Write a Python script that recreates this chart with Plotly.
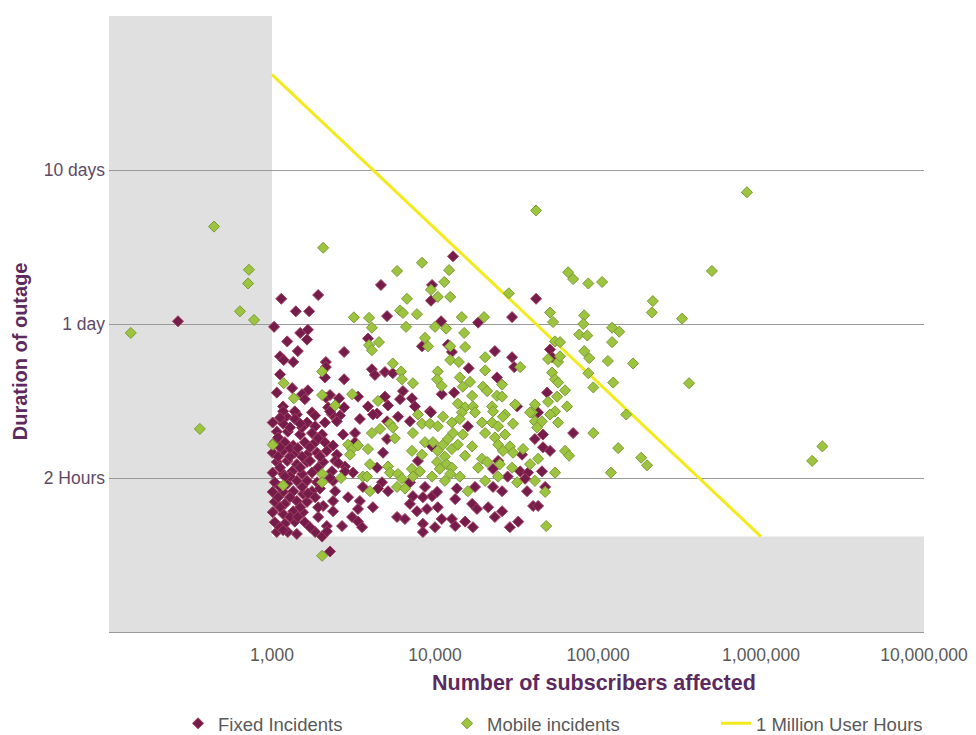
import plotly.graph_objects as go

# ---------------- data ----------------
fixed_subscribers = [
    265, 2030, 2270, 1140, 1920, 1400, 1690, 1030, 1490, 1660, 1640, 1240, 1440, 2770, 1120, 1180,
    1350, 2140, 2140, 1120, 2110, 2770, 1070, 1330, 1660, 1530, 1590, 2140, 2270, 1170, 2210, 2580,
    1420, 1760, 1840, 1220, 2330, 2770, 2610,
    1170, 1380, 2270, 1010, 1170, 1380, 1640, 1840, 2110, 2500, 3460, 1070, 1250, 1490, 1760, 2030,
    2730, 3230, 1040, 1200, 1350, 1590, 1840, 2110, 2370, 3230, 1010, 1170, 1380, 1640, 1890, 2170,
    2500, 1070, 1240, 1420, 1640, 2060, 2440, 2800, 3140, 1010, 1170, 1330, 1530, 1760, 2330, 2800,
    1040, 1240, 1420, 1640, 1890, 2370, 1010, 1170, 1350, 1550, 1760, 2440, 2930, 1040, 1200, 1420,
    1640, 2060, 2370, 1010, 1170, 1350, 1550, 2370, 3100, 1040, 1200, 1380, 1590, 2170, 2690, 3370,
    1070, 1250, 1420, 1840, 2170,
    1120, 1290, 1530, 1120, 1290, 1530, 1120, 1290, 1530, 1120, 1290, 1120, 1290, 1490, 1120, 1710,
    1920, 1840, 1970, 1710, 1920,
    1090, 1290, 1090, 1490, 1200, 1090, 1440, 1170, 1660, 1710, 1440, 1970, 1490, 1920, 2270, 2550,
    1920,
    4660, 9590, 9450, 5080, 10900, 3880, 8320, 12000, 12700, 4100, 4280, 4930, 5510, 6360, 11000,
    3370, 4930, 3880, 4410, 6100, 7220, 7530, 9320, 5150,
    4160, 5930, 7020, 9450, 5080, 5080, 4800, 7860, 9590, 4410, 4730, 3610, 4470, 5150, 7020, 8680,
    9590, 10300, 7320, 8430, 7020, 3460, 4160, 3370, 8930, 7750, 10400, 5850, 6540, 8430, 10000,
    3570, 11000, 8430, 12700,
    41700, 18400, 29700, 23300, 29700, 16100, 24000, 30600, 13100, 31900,
    15900, 34200, 41000, 46000, 24400, 22700, 33300, 37200, 27900, 35700, 13600, 17600, 22700,
    25800, 36700, 13300, 16900, 18100, 21200, 25800, 40000, 15300, 23300, 32400, 13300, 17100, 28800,
    50800, 52300, 48700, 42900, 46000, 50800, 70400, 45300, 47400, 42900,
    12900,
]
fixed_hours = [
    25, 1.0, 0.8, 35, 37, 29, 29, 23, 21, 22, 19, 18.5, 16, 15.8, 14.8, 14,
    13.6, 13.6, 12.6, 11.3, 10.8, 10.5, 8.6, 9.2, 8.9, 8.4, 7.8, 8.0, 8.3, 7.0, 6.9, 7.9,
    6.2, 6.4, 6.1, 6.0, 6.2, 6.9, 6.1,
    6.5, 6.5, 6.5, 5.5, 5.4, 5.8, 5.5, 5.2, 5.5, 5.6, 5.8, 4.8, 4.8, 4.6, 4.7, 4.6,
    4.6, 4.7, 4.1, 4.1, 3.9, 4.1, 4.1, 4.1, 3.9, 4.1, 3.5, 3.6, 3.5, 3.4, 3.5, 3.6,
    3.4, 3.05, 3.1, 2.95, 3.05, 3.05, 3.1, 2.85, 2.6, 2.6, 2.55, 2.65, 2.55, 2.6, 2.65, 2.65,
    2.25, 2.2, 2.3, 2.3, 2.25, 2.3, 1.95, 1.95, 1.97, 1.89, 1.97, 1.97, 1.8, 1.68, 1.63, 1.7,
    1.68, 1.58, 1.7, 1.44, 1.4, 1.46, 1.44, 1.46, 1.34, 1.24, 1.21, 1.25, 1.24, 1.17, 1.17, 1.25,
    1.07, 1.07, 1.04, 1.07, 1.08,
    5.9, 5.1, 5.1, 3.8, 3.3, 3.3, 2.8, 2.45, 2.1, 2.1, 1.8, 1.55, 1.34, 1.55, 1.15, 1.15,
    1.34, 1.8, 2.05, 3.8, 2.8,
    4.4, 3.75, 3.3, 2.8, 2.45, 1.8, 1.34, 1.1, 1.9, 3.1, 3.75, 3.3, 5.4, 4.35, 2.4, 3.0,
    1.55,
    43, 43, 34, 27, 25, 19.3, 17.2, 17.6, 15.8, 12.2, 11.2, 11.7, 11.5, 8.8, 8.4,
    8.1, 8.1, 7.0, 6.3, 7.8, 7.9, 7.0, 6.5, 7.1,
    6.2, 6.0, 5.6, 6.4, 5.6, 4.3, 3.5, 3.1, 3.85, 2.8, 2.25, 2.1, 2.05, 1.97, 2.25, 2.1,
    1.83, 1.95, 1.83, 1.8, 1.63, 1.7, 1.55, 1.51, 1.51, 1.46, 1.55, 1.34, 1.3, 1.21, 1.15,
    1.15, 1.3, 1.07, 1.3,
    35, 24.5, 26.6, 16, 14.6, 12.4, 10.8, 12.6, 8.6, 7.0,
    5.2, 3.4, 4.3, 3.8, 3.1, 2.75, 2.65, 2.6, 2.45, 2.37, 2.05, 2.1, 2.1,
    1.97, 1.97, 1.75, 1.63, 1.51, 1.55, 1.46, 1.58, 1.25, 1.34, 1.25, 1.17, 1.15, 1.15,
    16.4, 14.6, 8.6, 6.4, 4.6, 3.6, 4.7, 2.65, 2.1, 1.58,
    66,
]

mobile_subscribers = [
    441, 722, 713, 636, 776, 136, 361, 1010, 2030, 48100,
    3180, 2030, 1180, 1360, 2030, 2440, 3100,
    2930, 3100, 3370, 3010, 2030, 2030, 2650, 1170, 3610,
    11400, 9450, 10400, 12400, 6730, 6100, 6360, 7750, 3940, 4100, 6640, 10000, 11700, 4530, 3940,
    4100, 8680, 9060, 12400, 5510, 6190, 6270, 10400, 10300, 11000, 7320, 4470, 7860, 11200,
    5290, 5510, 8320, 9320, 10400, 12700, 4600, 4100, 3880, 5670, 7320, 8680, 9720, 11200, 12000,
    7220, 8320, 10400, 11500, 12700, 10300, 11800, 10700, 12700, 3990, 5150, 5290, 5930, 6270,
    7220, 7320, 8080, 3830, 5850, 6540, 9590, 11500, 12400, 3990,
    28400, 14600, 20000, 15100, 12400, 15300, 14000, 20300, 20300, 33300, 14200, 16400, 14800,
    25800, 19700, 20900, 16900, 24000, 25800, 13800, 15300, 17100, 22400, 31000, 41000, 39400, 26900,
    14600, 17600, 22700, 26100, 38300, 14200, 19400, 22400, 24400, 30100, 41000, 12900, 14800,
    20300, 23300, 26900, 42300, 13800, 16900, 24400, 28800, 15300, 19400, 26100, 30100, 34700,
    18400, 20900, 25000, 29700, 42900, 38300, 14200, 20300, 24400, 31900, 41000, 15900,
    50800, 53000, 54500, 49400, 56900, 52300, 54500, 56900, 56100, 49400, 54500, 50800, 45300,
    56900, 54500, 47400, 58500, 58500,
    820000, 500000, 65600, 70400, 87200, 106000, 217000, 214000, 328000, 82300, 81200, 122000,
    135000, 76700, 86000, 122000, 82300, 88400, 115000, 164000, 87200, 124000, 362000, 93600,
    62800, 64600, 149000, 93600, 133000, 184000, 200000, 120000, 2380000, 2060000, 62800, 66500,
    2060, 41700, 8320, 5850, 12200,
]
mobile_hours = [
    103, 54, 44, 29, 25.5, 21, 5.0, 3.95, 0.75, 1.17,
    26.5, 11.8, 9.9, 7.9, 8.3, 7.1, 8.4,
    3.95, 3.7, 3.9, 3.4, 2.55, 2.25, 2.4, 2.15, 2.45,
    45, 40, 36, 36, 35, 29.4, 28.3, 27.8, 26.3, 22.7, 23, 23, 22.4, 18.3, 17.5,
    16.2, 19.5, 17.2, 14, 13.3, 11.8, 10.5, 11.8, 10.5, 9.5, 9.9, 7.6, 6.2, 6.0,
    5.4, 5.1, 5.4, 5.4, 5.2, 5.5, 5.0, 4.7, 3.7, 4.35, 4.7, 4.1, 4.1, 3.95, 4.3,
    3.6, 3.4, 3.6, 3.3, 3.7, 3.05, 2.95, 2.75, 2.8, 2.95, 2.85, 2.6, 2.55, 2.37,
    2.75, 2.45, 2.65, 2.45, 2.1, 2.05, 2.45, 2.3, 2.55, 1.97,
    38, 26.6, 26.6, 21, 17.2, 17, 13.6, 14.6, 12, 12.6, 10.8, 10.1, 9.4,
    9.7, 9.4, 8.8, 8.2, 8.2, 8.1, 7.3, 6.9, 7.0, 7.0, 7.2, 7.2, 6.4, 6.2,
    6.4, 6.4, 6.5, 6.0, 6.4, 5.8, 5.5, 5.5, 5.2, 5.4, 5.6, 4.7, 4.6,
    4.7, 4.4, 4.6, 5.1, 3.95, 3.85, 3.95, 3.85, 3.35, 3.2, 3.6, 3.5, 3.7,
    2.8, 3.05, 2.95, 2.8, 3.2, 2.95, 2.45, 2.3, 2.45, 2.25, 2.3, 1.97,
    28.5, 24.7, 18.5, 14.2, 13.6, 11.6, 10.5, 10.0, 8.1, 7.5, 6.5, 6.2, 5.6,
    5.5, 2.6, 1.95, 18.3, 14.8,
    172, 53, 52, 47, 44, 45, 33.8, 28.5, 26, 27.3, 24, 22.7,
    21.4, 20.5, 20.2, 18.3, 16, 14.4, 13.8, 13.3, 11.5, 10, 9.9, 9.3,
    8.9, 7.0, 6.2, 4.7, 3.75, 3.25, 2.9, 2.6, 3.85, 3.1, 3.6, 3.35,
    75, 131, 60, 53, 53.7,
]

threshold_subscribers = [1000, 1000000]
threshold_hours = [1000, 1]

x_tick_values = [1000, 10000, 100000, 1000000, 10000000]
x_tick_labels = ["1,000", "10,000", "100,000", "1,000,000", "10,000,000"]
y_tick_values = [0.24, 2.4, 24, 240, 2400]
y_tick_labels = ["", "2 Hours", "1 day", "10 days", ""]

shade_subscribers = [100, 1000, 10000000]   # left band edge / start of bottom band / right edge
shade_hours = [0.24, 1, 2400]               # bottom / top of bottom band / top

# ---------------- figure ----------------
FONT = "Liberation Sans, Arial, sans-serif"
NARROW = "Liberation Sans Narrow, Arial Narrow, Liberation Sans, Arial, sans-serif"
PURPLE = "#5c2a5e"

fig = go.Figure()

fig.add_trace(go.Scatter(
    x=threshold_subscribers, y=threshold_hours, mode="lines",
    name="1 Million User Hours", legendrank=3,
    line=dict(color="#f2ea1c", width=3),
))
fig.add_trace(go.Scatter(
    x=fixed_subscribers, y=fixed_hours, mode="markers",
    name="Fixed Incidents", legendrank=1,
    marker=dict(symbol="diamond", size=8.5, color="#761c4b",
                line=dict(color="#a0405f", width=1)),
))
fig.add_trace(go.Scatter(
    x=mobile_subscribers, y=mobile_hours, mode="markers",
    name="Mobile incidents", legendrank=2,
    marker=dict(symbol="diamond", size=8.5, color="#9cc43e",
                line=dict(color="#7d9a3a", width=1)),
))

# grey shaded zones
fig.add_shape(type="rect", xref="x", yref="y", layer="below",
              x0=shade_subscribers[0], x1=shade_subscribers[1],
              y0=shade_hours[0], y1=shade_hours[2],
              fillcolor="#e0e0e0", line=dict(width=0))
fig.add_shape(type="rect", xref="x", yref="y", layer="below",
              x0=shade_subscribers[1], x1=shade_subscribers[2],
              y0=shade_hours[0], y1=shade_hours[1],
              fillcolor="#e0e0e0", line=dict(width=0))

fig.update_layout(
    width=968, height=727,
    margin=dict(l=101, r=52, t=8, b=103, autoexpand=False),
    paper_bgcolor="white", plot_bgcolor="white",
    font=dict(family=FONT, size=16, color="#595959"),
    showlegend=True,
    legend=dict(orientation="h", x=0.0847, xanchor="left", y=-0.149, yanchor="middle",
                font=dict(family=FONT, size=18.5, color="#595959"),
                entrywidth=224, entrywidthmode="pixels", itemclick=False,
                bgcolor="rgba(0,0,0,0)", traceorder="normal"),
    xaxis=dict(type="log", range=[2, 7], tickmode="array",
               tickvals=x_tick_values, ticktext=x_tick_labels,
               showgrid=False, zeroline=False, showline=True,
               linecolor="#9a9a9a", linewidth=1, ticks="", ticklabelstandoff=7,
               tickfont=dict(family=FONT, size=17.5, color="#595959")),
    yaxis=dict(type="log", range=[-0.61979, 3.38021], tickmode="array",
               tickvals=y_tick_values, ticktext=y_tick_labels,
               showgrid=True, gridcolor="#9a9a9a", gridwidth=1,
               zeroline=False, showline=False, ticks="", ticklabelstandoff=3,
               tickfont=dict(family=FONT, size=17.5, color="#5e4a66")),
    annotations=[
        dict(text="<b>Number of subscribers affected</b>", xref="paper", yref="paper",
             x=0.595, y=-0.083, xanchor="center", yanchor="middle", showarrow=False,
             font=dict(family=NARROW, size=21.5, color=PURPLE)),
        dict(text="<b>Duration of outage</b>", xref="paper", yref="paper",
             x=-0.109, y=0.456, xanchor="center", yanchor="middle", showarrow=False,
             textangle=-90, font=dict(family=NARROW, size=20, color=PURPLE)),
    ],
)

fig.write_html("out.html")
